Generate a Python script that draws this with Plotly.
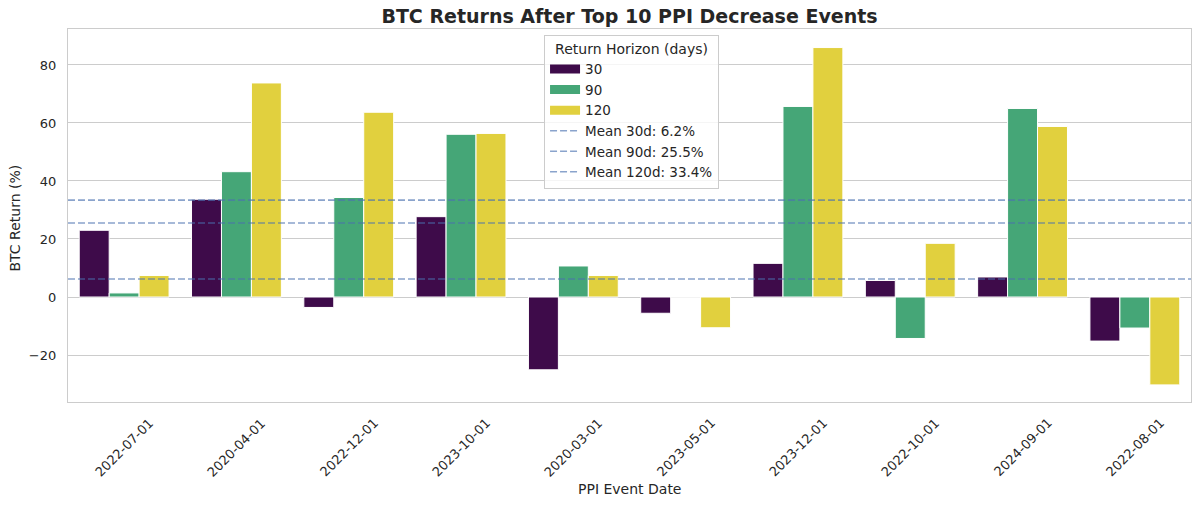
import plotly.graph_objects as go

# ---- data ----
event_dates = ["2022-07-01", "2020-04-01", "2022-12-01", "2023-10-01", "2020-03-01",
               "2023-05-01", "2023-12-01", "2022-10-01", "2024-09-01", "2022-08-01"]
horizons = ["30", "90", "120"]
ret_30d = [23.0, 33.7, -3.6, 27.7, -25.1, -5.6, 11.6, 5.7, 6.9, -15.2]
ret_90d = [1.4, 43.2, 34.3, 56.1, 10.7, 0.0, 65.7, -14.3, 65.0, -10.7]
ret_120d = [7.4, 73.8, 63.7, 56.4, 7.4, -10.6, 86.0, 18.5, 58.8, -30.3]
mean_labels = ["30d", "90d", "120d"]
mean_values = [6.2, 25.5, 33.4]
y_ticks = [-20, 0, 20, 40, 60, 80]

# ---- style ----
bar_colors = ["#3e0b4a", "#45a677", "#e1d03e"]
mean_color = "rgba(76,114,176,0.65)"
text_color = "#262626"
grid_color = "#cccccc"
font_family = "DejaVu Sans"
x_range = [-0.5, len(event_dates) - 0.5]
y_range = [-36.2, 92.4]

fig = go.Figure()
x_idx = list(range(len(event_dates)))
for name, vals, col in zip(horizons, [ret_30d, ret_90d, ret_120d], bar_colors):
    fig.add_trace(go.Bar(
        x=x_idx, y=vals, name=name, marker_color=col,
        marker_line_color="white", marker_line_width=1,
        showlegend=False, legendgroup=name,
    ))
# legend proxies (wide rectangular swatches)
for name, col in zip(horizons, bar_colors):
    fig.add_trace(go.Scatter(
        x=[None], y=[None], mode="lines", name=name, legendgroup=name,
        line=dict(color=col, width=9),
    ))

for lab, m in zip(mean_labels, mean_values):
    fig.add_trace(go.Scatter(
        x=x_range, y=[m, m], mode="lines", name=f"Mean {lab}: {m}%",
        line=dict(color=mean_color, width=1.6, dash="7px,3px"),
        hoverinfo="skip",
    ))

annotations = []
for i, d in enumerate(event_dates):
    annotations.append(dict(
        x=i, xref="x", y=0, yref="paper", yanchor="top", xanchor="center",
        yshift=-10, text=d, textangle=-45, showarrow=False,
        font=dict(family=font_family, size=13, color=text_color),
    ))
annotations.append(dict(
    x=0.5, xref="paper", y=-0.233, yref="paper", xanchor="center", yanchor="middle",
    text="PPI Event Date", showarrow=False,
    font=dict(family=font_family, size=14, color=text_color),
))
annotations.append(dict(
    x=-0.0472, xref="paper", y=(402 - 217.5) / 373,
    yref="paper", xanchor="center", yanchor="middle",
    text="BTC Return (%)", textangle=-90, showarrow=False,
    font=dict(family=font_family, size=14, color=text_color),
))

fig.update_layout(
    width=1200, height=506,
    margin=dict(l=68, r=9, t=29, b=104),
    paper_bgcolor="white", plot_bgcolor="white",
    barmode="group", bargap=0.2, bargroupgap=0,
    font=dict(family=font_family, size=13, color=text_color),
    title=dict(
        text="<b>BTC Returns After Top 10 PPI Decrease Events</b>",
        x=0.5, xref="paper", xanchor="center",
        y=1 - 16 / 506, yref="container", yanchor="middle",
        font=dict(family=font_family, size=19, color=text_color),
    ),
    legend=dict(
        x=0.4239, y=0.985, xanchor="left", yanchor="top",
        bgcolor="rgba(255,255,255,0.8)", bordercolor=grid_color, borderwidth=1,
        font=dict(family=font_family, size=13.5, color=text_color),
        title=dict(text="Return Horizon (days)", side="top center",
                   font=dict(family=font_family, size=14, color=text_color)),
        tracegroupgap=0,
    ),
    annotations=annotations,
    showlegend=True,
)
fig.update_xaxes(
    range=x_range, tickvals=x_idx, showticklabels=False, showgrid=False,
    zeroline=False, showline=True, mirror=True, linecolor=grid_color, linewidth=1.25,
    ticks="",
)
fig.update_yaxes(
    range=y_range, tickvals=y_ticks, showgrid=True, gridcolor=grid_color, gridwidth=1,
    zeroline=False, showline=True, mirror=True, linecolor=grid_color, linewidth=1.25,
    ticks="", ticklabelstandoff=8,
    tickfont=dict(family=font_family, size=13, color=text_color),
)

fig.write_html("out.html")
